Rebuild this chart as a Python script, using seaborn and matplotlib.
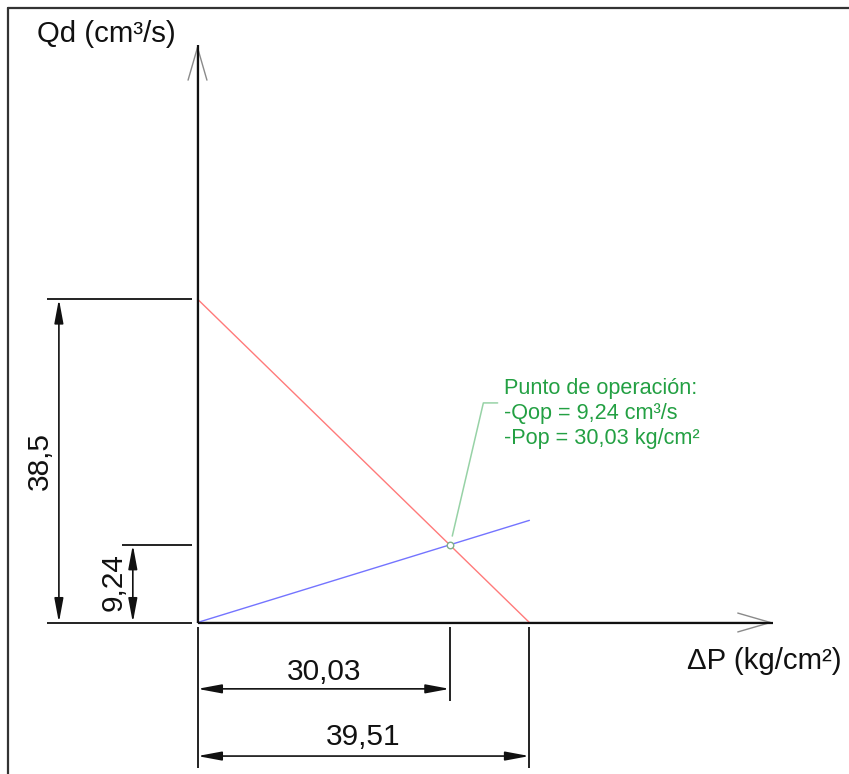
import matplotlib
matplotlib.use("Agg")
import matplotlib.pyplot as plt
import seaborn as sns
import pandas as pd

# Pump curve (red) and system line (blue): pressure drop vs. flow
pump_dp = [0.0, 39.51]
pump_q = [38.5, 0.0]
system_dp = [0.0, 39.51]
system_q = [0.0, 12.16]

# Operating point
op_dp = 30.03
op_q = 9.24

# Dimension values shown on the drawing
dim_x_values = [30.03, 39.51]
dim_x_labels = ["30,03", "39,51"]
dim_y_values = [38.5, 9.24]
dim_y_labels = ["38,5", "9,24"]

x_label = "ΔP (kg/cm²)"
y_label = "Qd (cm³/s)"
note_lines = ["Punto de operación:", "-Qop = 9,24 cm³/s", "-Pop = 30,03 kg/cm²"]

sns.set_theme(style="white")
plt.rcParams["font.family"] = ["Liberation Sans", "DejaVu Sans"]

W, H, DPI = 849, 774, 100
PX = 8.4                      # pixels per data unit (equal on both axes)
OX, OY = 197.5, 622.5         # origin position in pixels from top-left

fig = plt.figure(figsize=(W / DPI, H / DPI), dpi=DPI)
ax = fig.add_axes([0, 0, 1, 1])
ax.set_xlim(-OX / PX, (W - OX) / PX)
ax.set_ylim(-(H - OY) / PX, OY / PX)
ax.set_axis_off()

curves = pd.DataFrame({
    "dp": pump_dp + system_dp,
    "q": pump_q + system_q,
    "curve": ["bomba"] * 2 + ["sistema"] * 2,
})
sns.lineplot(data=curves, x="dp", y="q", hue="curve",
             palette={"bomba": "#ff7a7a", "sistema": "#7474ff"},
             linewidth=1.0, legend=False, ax=ax, zorder=3)

dark = "#111111"

# Coordinate axes with open arrowheads
x_tip, y_tip = 68.5, 68.75
for tip in [(x_tip, 0), (0, y_tip)]:
    ax.annotate("", xy=tip, xytext=(0, 0),
                arrowprops=dict(arrowstyle="->,head_length=2.35,head_width=0.68",
                                color="#8a8a8a", lw=1.0, shrinkA=0, shrinkB=0,
                                mutation_scale=10), zorder=1)
ax.plot([0, x_tip], [0, 0], color=dark, lw=1.6, zorder=4, solid_capstyle="butt")
ax.plot([0, 0], [0, y_tip], color=dark, lw=1.6, zorder=4, solid_capstyle="butt")

ax.text(-19.1, 70.0, y_label, fontsize=21.2, color=dark, ha="left", va="center")
ax.text(58.3, -4.55, x_label, fontsize=21.2, color=dark, ha="left", va="center")

dim_arrow = dict(arrowstyle="<|-|>,head_length=1.45,head_width=0.27",
                 color=dark, lw=1.2, shrinkA=0, shrinkB=0, mutation_scale=10)
ext_kw = dict(color=dark, lw=1.3, solid_capstyle="butt")

# Vertical dimensions (left side)
y_dim_pos = [-16.5, -7.7]
y_ext_start = [-17.9, -9.0]
y_text_pos = [-18.75, -10.0]
ax.plot([-17.9, -0.65], [0, 0], **ext_kw)
for val, lab, xd, xs, xt in zip(dim_y_values, dim_y_labels, y_dim_pos, y_ext_start, y_text_pos):
    ax.plot([xs, -0.65], [val, val], **ext_kw)
    ax.annotate("", xy=(xd, val), xytext=(xd, 0), arrowprops=dim_arrow)
    ax.text(xt, val / 2 if val > 20 else val / 2 + 0.2, lab, fontsize=21.5, color=dark,
            rotation=90, ha="center", va="center")

# Horizontal dimensions (below the axis)
x_dim_pos = [-7.9, -15.9]
x_ext_end = [-9.35, -17.3]
x_text_pos = [-5.85, -13.6]
ax.plot([0, 0], [-0.55, -17.3], **ext_kw)
for val, lab, yd, ye, yt in zip(dim_x_values, dim_x_labels, x_dim_pos, x_ext_end, x_text_pos):
    ax.plot([val, val], [-0.55, ye], **ext_kw)
    ax.annotate("", xy=(val, yd), xytext=(0, yd), arrowprops=dim_arrow)
    ax.text(val / 2 + 0.0, yt, lab, fontsize=21.5, color=dark, ha="center", va="center")

# Operating point marker, leader and note
green = "#23a043"
ax.scatter([op_dp], [op_q], s=22, facecolors="white", edgecolors="#7fae8a",
           linewidths=1.0, zorder=5)
ax.plot([op_dp + 0.3, op_dp + 4.0, op_dp + 5.7], [op_q + 1.05, op_q + 16.9, op_q + 16.9],
        color="#97d2a6", lw=1.1, zorder=4)
note_x = 36.5
for i, line in enumerate(note_lines):
    ax.text(note_x, op_q + 18.6 - i * 2.98, line, fontsize=15.6, color=green,
            ha="left", va="center")

# Sheet border (top and left edges)
ax.plot([8 / W, 1], [1 - 8 / H, 1 - 8 / H], transform=ax.transAxes,
        color="#333333", lw=1.6, clip_on=False)
ax.plot([8 / W, 8 / W], [0, 1 - 8 / H], transform=ax.transAxes,
        color="#333333", lw=1.6, clip_on=False)

fig.savefig("out.png", dpi=DPI, facecolor="white")
